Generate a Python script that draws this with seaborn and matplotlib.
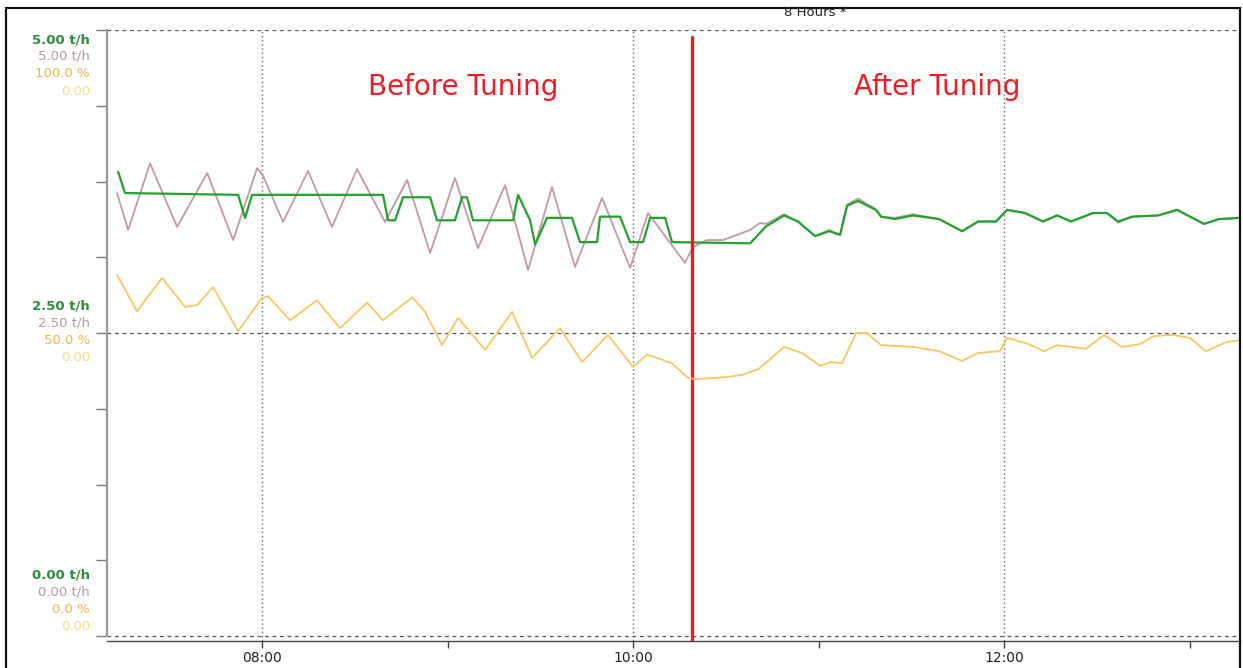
import matplotlib
matplotlib.use("Agg")
import matplotlib.pyplot as plt
import numpy as np
import seaborn as sns
from matplotlib.patches import Rectangle

sns.set_theme(style="white")
plt.rcParams["font.family"] = ["DejaVu Sans"]

# ---------------------------------------------------------------------------
# Data (time in decimal hours of the day)
# ---------------------------------------------------------------------------

# green: flow set/measured, t/h
GREEN_T = [7.224, 7.261, 7.871, 7.908, 7.946, 8.652, 8.679, 8.717, 8.760, 8.906,
           8.943, 9.040, 9.078, 9.105, 9.137, 9.353, 9.380, 9.445, 9.472, 9.536,
           9.671, 9.714, 9.806, 9.822, 9.930, 9.984, 10.054, 10.092, 10.173, 10.210,
           10.631, 10.717, 10.814, 10.889, 10.981, 11.057, 11.116, 11.154, 11.213, 11.310,
           11.337, 11.412, 11.509, 11.650, 11.774, 11.860, 11.957, 12.016, 12.113, 12.210,
           12.286, 12.361, 12.480, 12.555, 12.615, 12.690, 12.830, 12.933, 13.003, 13.078,
           13.159, 13.272]
GREEN_V = [3.83, 3.655, 3.64, 3.45, 3.64, 3.64, 3.43, 3.43, 3.62, 3.62,
           3.43, 3.43, 3.62, 3.62, 3.43, 3.43, 3.64, 3.43, 3.23, 3.45,
           3.45, 3.25, 3.25, 3.46, 3.46, 3.25, 3.25, 3.45, 3.45, 3.25,
           3.24, 3.38, 3.47, 3.42, 3.30, 3.34, 3.31, 3.55, 3.59, 3.515,
           3.46, 3.44, 3.47, 3.44, 3.34, 3.42, 3.42, 3.515, 3.49, 3.42,
           3.47, 3.42, 3.49, 3.49, 3.42, 3.46, 3.47, 3.515, 3.46, 3.40,
           3.44, 3.45]

# pink: process value, t/h
PINK_T = [7.218, 7.278, 7.396, 7.542, 7.704, 7.844, 7.973, 8.005, 8.113, 8.248,
          8.377, 8.512, 8.663, 8.782, 8.906, 9.040, 9.164, 9.310, 9.434, 9.563,
          9.687, 9.833, 9.984, 10.081, 10.280, 10.323, 10.399, 10.485, 10.561, 10.631,
          10.685, 10.717, 10.814, 10.889, 10.981, 11.057, 11.116, 11.154, 11.213, 11.310,
          11.337, 11.412, 11.509, 11.650, 11.774, 11.860, 11.957, 12.016, 12.113, 12.210,
          12.286, 12.361, 12.480, 12.555, 12.615, 12.690, 12.830, 12.933, 13.003, 13.078,
          13.159, 13.272]
PINK_V = [3.655, 3.35, 3.90, 3.375, 3.82, 3.267, 3.86, 3.80, 3.416, 3.837,
          3.375, 3.853, 3.416, 3.762, 3.16, 3.779, 3.20, 3.72, 3.02, 3.705,
          3.045, 3.614, 3.036, 3.49, 3.078, 3.21, 3.267, 3.267, 3.31, 3.35,
          3.408, 3.40, 3.48, 3.42, 3.30, 3.35, 3.31, 3.56, 3.61, 3.52,
          3.46, 3.45, 3.48, 3.44, 3.34, 3.42, 3.42, 3.52, 3.49, 3.42,
          3.47, 3.42, 3.49, 3.49, 3.41, 3.46, 3.47, 3.52, 3.46, 3.40,
          3.44, 3.45]

# yellow: controller output, %
YELLOW_T = [7.218, 7.326, 7.461, 7.585, 7.650, 7.736, 7.871, 8.000, 8.032, 8.151,
            8.296, 8.420, 8.566, 8.652, 8.809, 8.879, 8.970, 9.057, 9.202, 9.348,
            9.456, 9.606, 9.725, 9.865, 10.000, 10.075, 10.119, 10.210, 10.296, 10.334,
            10.496, 10.588, 10.679, 10.814, 10.911, 11.008, 11.067, 11.127, 11.202, 11.261,
            11.337, 11.509, 11.650, 11.774, 11.860, 11.978, 12.016, 12.129, 12.216, 12.286,
            12.442, 12.539, 12.636, 12.733, 12.809, 12.906, 13.003, 13.089, 13.197, 13.272]
YELLOW_PCT = [59.6, 53.6, 59.1, 54.3, 54.6, 57.6, 50.3, 55.8, 56.1, 52.1,
              55.4, 50.8, 55.0, 52.1, 55.9, 53.5, 48.0, 52.5, 47.2, 53.5,
              45.9, 50.8, 45.2, 49.7, 44.4, 46.4, 46.0, 45.0, 42.6, 42.4,
              42.7, 43.1, 44.1, 47.7, 46.7, 44.6, 45.2, 45.0, 50.0, 50.0,
              48.0, 47.7, 47.0, 45.4, 46.7, 47.0, 49.2, 48.2, 47.0, 48.0,
              47.4, 49.7, 47.7, 48.2, 49.5, 49.7, 49.2, 47.0, 48.5, 48.8]

TUNING_T = 10.32
HOUR_TICKS = [8, 9, 10, 11, 12, 13]
HOUR_LABELS = ["08:00", "", "10:00", "", "12:00", ""]
LEVELS = [5.0, 2.5, 0.0]
LEVEL_LABELS = [
    ["5.00 t/h", "5.00 t/h", "100.0 %", "0.00"],
    ["2.50 t/h", "2.50 t/h", "50.0 %", "0.00"],
    ["0.00 t/h", "0.00 t/h", "0.0 %", "0.00"],
]
LEVEL_OFFSETS = [[-10, -26, -43, -61], [27, 10, -7, -24], [61, 44, 27, 10]]

C_GREEN = "#22a22c"
C_PINK = "#c29aa3"
C_YELLOW = "#f7c763"
C_RED = "#ec1c24"
LABEL_COLORS = ["#2c8f3a", "#b8999e", "#f2b24e", "#f1e08a"]
LABEL_WEIGHTS = ["bold", "normal", "normal", "normal"]

W, H = 1243, 668
fig = plt.figure(figsize=(W / 100, H / 100), dpi=100)
ax = fig.add_axes([107 / W, 1 - 641 / H, (1240 - 107) / W, (641 - 30) / H])
ax2 = ax.twinx()

sns.lineplot(x=PINK_T, y=PINK_V, ax=ax, color=C_PINK, lw=1.3, estimator=None)
sns.lineplot(x=GREEN_T, y=GREEN_V, ax=ax, color=C_GREEN, lw=1.6, estimator=None)
sns.lineplot(x=YELLOW_T, y=YELLOW_PCT, ax=ax2, color=C_YELLOW, lw=1.3, estimator=None)

ymin = -0.041
ax.set_xlim(7.164, 13.272)
ax.set_ylim(ymin, 5.0)
ax2.set_ylim(ymin * 20, 100)
ax2.set_axis_off()

# grid
for lv in LEVELS:
    ax.axhline(lv, color="#555555", lw=0.9, ls=(0, (3, 3)), zorder=0)
for h in [8, 10, 12]:
    ax.axvline(h, color="#666666", lw=1.0, ls=(0, (1, 2)), zorder=0)

# tuning divider
ax.axvline(TUNING_T, ymin=0.0, ymax=(4.94 - ymin) / (5.0 - ymin), color=C_RED, lw=2.4, zorder=5)
ax.text(9.084, 4.53, "Before Tuning", color=C_RED, fontsize=20,
        family="DejaVu Sans", ha="center", va="center")
ax.text(11.64, 4.53, "After Tuning", color=C_RED, fontsize=20,
        family="DejaVu Sans", ha="center", va="center")

# spines / ticks
for s in ["top", "right"]:
    ax.spines[s].set_visible(False)
ax.spines["left"].set_bounds(0, 5)
ax.spines["left"].set_color("#9a9a9a")
ax.spines["left"].set_linewidth(1.6)
ax.spines["bottom"].set_color("#444444")
ax.spines["bottom"].set_linewidth(1.0)
ax.set_yticks([0, 0.625, 1.25, 1.875, 2.5, 3.125, 3.75, 4.375, 5.0])
ax.set_yticklabels([])
ax.tick_params(axis="y", direction="out", length=8, width=1.0, color="#777777", left=True)
ax.set_xticks(HOUR_TICKS)
ax.set_xticklabels(HOUR_LABELS, fontsize=10, color="#222222")
ax.tick_params(axis="x", direction="out", length=5, width=1.0, color="#444444",
               bottom=True, pad=2)
ax.grid(False)
ax.set_xlabel("")
ax.set_ylabel("")

# stacked scale labels on the left
for lv, labels, offs in zip(LEVELS, LEVEL_LABELS, LEVEL_OFFSETS):
    for txt, off, col, wt in zip(labels, offs, LABEL_COLORS, LABEL_WEIGHTS):
        ax.annotate(txt, xy=(0, lv), xycoords=("axes fraction", "data"),
                    xytext=(-17, off), textcoords="offset pixels",
                    ha="right", va="center", fontsize=9.5, color=col,
                    fontweight=wt, family="DejaVu Sans")

fig.text(815 / W, 1 - 13 / H, "8 Hours *", ha="center", va="center",
         fontsize=9.5, color="#222222")

# outer frame
fig.add_artist(Rectangle((6 / W, -0.02), (1240 - 6) / W, 1 - 8 / H + 0.02,
                         transform=fig.transFigure, fill=False, lw=1.6,
                         ec="#111111"))

fig.savefig("out.png", dpi=100)
